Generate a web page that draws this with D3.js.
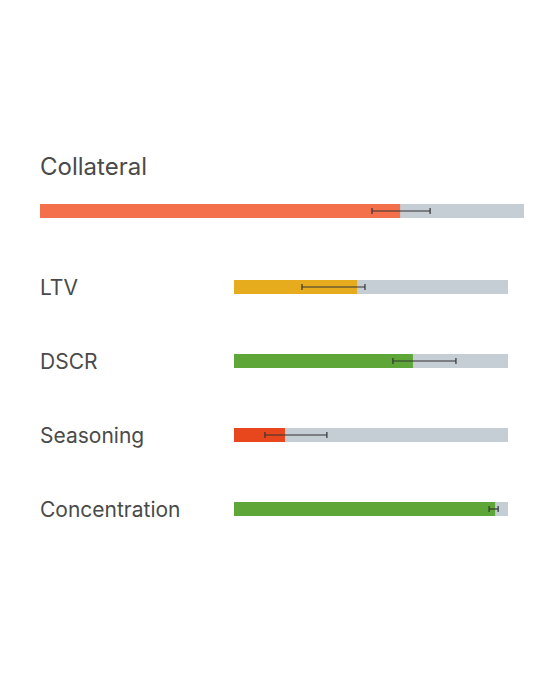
<html>
<head>
<script src="https://cdn.jsdelivr.net/npm/d3@7"></script>
<style>
body { margin: 0; background: #fff; font-family: Inter, "Noto Sans", sans-serif; }
</style>
</head>
<body>
<svg id="chart" width="548" height="676"></svg>
<script>
// main score (0..1)
var mainLabel = "Collateral";
var mainValue = 0.744, mainLow = 0.686, mainHigh = 0.806;

var labels = ["LTV", "DSCR", "Seasoning", "Concentration"];
var values = [0.449, 0.653, 0.186, 0.953];
var lows   = [0.248, 0.580, 0.113, 0.931];
var highs  = [0.478, 0.810, 0.339, 0.964];
var colors = ["#E6AC1E", "#5DA637", "#E8461C", "#5DA637"];

var svg = d3.select("#chart");
var track = "#C5CDD5", ink = "#333";

svg.append("text").attr("x", 40).attr("y", 175)
  .attr("font-size", 24).attr("fill", "#4a4a4a").text(mainLabel);

var xm = d3.scaleLinear().domain([0, 1]).range([40, 524]);
function bar(x, y, h, v, lo, hi, col) {
  svg.append("rect").attr("x", x(0)).attr("y", y).attr("width", x(1) - x(0)).attr("height", h).attr("fill", track);
  svg.append("rect").attr("x", x(0)).attr("y", y).attr("width", x(v) - x(0)).attr("height", h).attr("fill", col);
  var cy = y + h / 2;
  svg.append("line").attr("x1", x(lo)).attr("x2", x(hi)).attr("y1", cy).attr("y2", cy).attr("stroke", ink).attr("stroke-width", 1.2);
  [lo, hi].forEach(function(e) {
    svg.append("line").attr("x1", x(e)).attr("x2", x(e)).attr("y1", cy - 3).attr("y2", cy + 3).attr("stroke", ink).attr("stroke-width", 1.2);
  });
}
bar(xm, 204, 14, mainValue, mainLow, mainHigh, "#F4704A");

var x = d3.scaleLinear().domain([0, 1]).range([234, 508]);
var y = d3.scalePoint().domain(labels).range([287, 509]);
labels.forEach(function(l, i) {
  svg.append("text").attr("x", 40).attr("y", y(l) + 8).attr("font-size", 21).attr("fill", "#4a4a4a").text(l);
  bar(x, y(l) - 7, 14, values[i], lows[i], highs[i], colors[i]);
});
</script>
</body>
</html>
